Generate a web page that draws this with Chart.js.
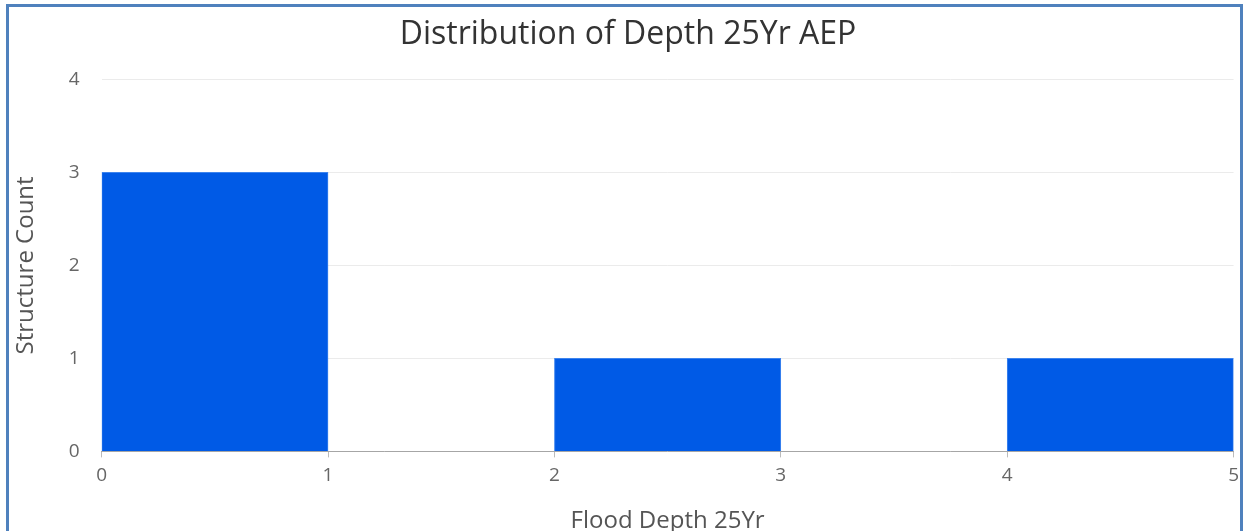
<!DOCTYPE html>
<html>
<head>
<meta charset="utf-8">
<script src="https://cdn.jsdelivr.net/npm/chart.js@4/dist/chart.umd.min.js"></script>
<style>
  html, body { margin: 0; padding: 0; background: #fff; overflow: hidden; }
  #wrap { position: relative; width: 1243px; height: 531px; overflow: hidden; }
  #c { position: absolute; left: 0; top: 0; }
  #frame {
    position: absolute; left: 6px; top: 4px; width: 1231px; height: 560px;
    border: 3px solid #4f81bd; pointer-events: none;
  }
</style>
</head>
<body>
<div id="wrap">
  <canvas id="c" width="1246" height="540"></canvas>
  <div id="frame"></div>
</div>
<script>
// Histogram bins (lower edge of each 1-ft depth bin) and structure counts
const binStarts = [0, 1, 2, 3, 4];
const binWidth = 1;
const counts = [3, 0, 1, 0, 1];
const xTicks = [0, 1, 2, 3, 4, 5];
const yTicks = [0, 1, 2, 3, 4];

const points = binStarts.map((s, i) => ({ x: s + binWidth / 2, y: counts[i] }));

const family = "'Open Sans', 'Noto Sans', sans-serif";
const tickFont = { family, size: 19 };
const titleFont = { family, size: 24 };

new Chart(document.getElementById('c'), {
  type: 'bar',
  data: {
    datasets: [{
      data: points,
      backgroundColor: '#005ae6',
      borderColor: '#3d84ee',
      borderWidth: 1,
      barPercentage: 1,
      categoryPercentage: 1
    }]
  },
  options: {
    responsive: false,
    devicePixelRatio: 1,
    animation: false,
    layout: { padding: { left: 10, right: 0, top: 16, bottom: 0 } },
    plugins: {
      legend: { display: false },
      tooltip: { enabled: false },
      title: {
        display: true,
        text: 'Distribution of Depth 25Yr AEP',
        color: '#333',
        font: { family, size: 32, weight: 'normal' },
        padding: { top: 0, bottom: 25 }
      }
    },
    scales: {
      x: {
        type: 'linear',
        offset: false,
        min: xTicks[0],
        max: xTicks[xTicks.length - 1],
        afterBuildTicks: (axis) => { axis.ticks = xTicks.map(v => ({ value: v })); },
        ticks: { color: '#666', font: tickFont, padding: 7, maxRotation: 0 },
        grid: { offset: false, drawOnChartArea: false, drawTicks: true, tickLength: 6, color: '#bbb' },
        border: { color: '#a6a6a6', width: 1 },
        title: { display: true, text: 'Flood Depth 25Yr', color: '#555', font: titleFont, padding: { top: 13, bottom: 4 } }
      },
      y: {
        min: yTicks[0],
        max: yTicks[yTicks.length - 1],
        afterBuildTicks: (axis) => { axis.ticks = yTicks.map(v => ({ value: v })); },
        ticks: { color: '#666', font: tickFont, padding: 22 },
        grid: { color: '#ebebeb', drawTicks: false },
        border: { display: false },
        title: { display: true, text: 'Structure Count', color: '#555', font: titleFont, padding: { top: 2, bottom: 6 } }
      }
    }
  }
});
</script>
</body>
</html>
